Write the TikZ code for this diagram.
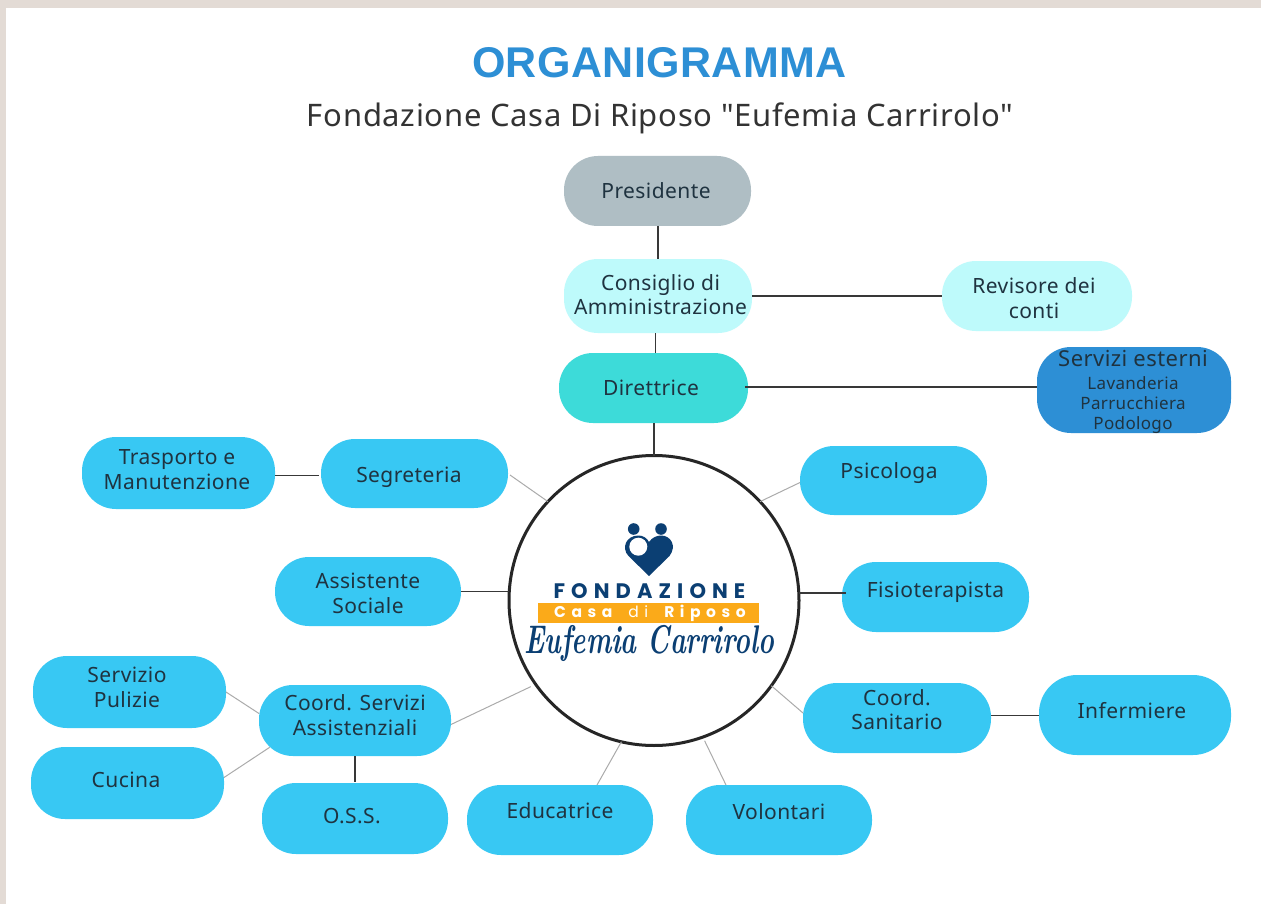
\documentclass[tikz,border=0pt]{standalone}
\usepackage{fontspec}
\newfontfamily\bodyfont[LetterSpace=2]{Noto Sans}
\newfontfamily\titlefont[LetterSpace=1]{Liberation Sans}
\newfontfamily\subfont[LetterSpace=2.2]{Noto Sans}
\newfontfamily\logofont[LetterSpace=29]{Poppins}
\newfontfamily\casafont[LetterSpace=36]{Poppins}
\definecolor{pagebg}{HTML}{E3DBD5}
\definecolor{sky}{HTML}{38C8F3}
\definecolor{greybox}{HTML}{AFBEC4}
\definecolor{pale}{HTML}{BEFAFB}
\definecolor{teal}{HTML}{3DDBD9}
\definecolor{deepblue}{HTML}{2D8FD5}
\definecolor{ink}{HTML}{1F3340}
\definecolor{navy}{HTML}{0B3F73}
\definecolor{amber}{HTML}{FBAA19}
\newcommand\pilltext[3]{\makebox[0pt]{\hspace{\dimexpr2\dimexpr#1\relax\relax}\raisebox{\dimexpr#2-.25em-3pt\relax}[0pt][0pt]{\begin{tabular}{@{}c@{}}#3\end{tabular}}}}
\tikzset{
  x=1pt,y=-1pt,
  pill/.style={rectangle,rounded corners=34pt,outer sep=0pt,inner sep=0pt,text=ink,
    font=\bodyfont\fontsize{21}{24.5}\selectfont},
  hardline/.style={draw=black!78,line width=1.3pt},
  softline/.style={draw=black!33,line width=1pt},
}
\begin{document}
\begin{tikzpicture}
\useasboundingbox (0,0) rectangle (1261,904);
\fill[pagebg] (0,0) rectangle (1261,904);
\fill[white] (6,8) rectangle (1261,904);

\node[text=deepblue,font=\titlefont\bfseries\fontsize{43}{46}\selectfont] (title) at (659.5,63) {ORGANIGRAMMA};
\node[text=black!80,font=\subfont\fontsize{31}{34}\selectfont] (subtitle) at (660,118) {Fondazione Casa Di Riposo "Eufemia Carrirolo"};

\node[pill,fill=greybox,minimum width=187pt,minimum height=70pt] (pres) at (657.5,191) {\pilltext{-1.5pt}{0pt}{Presidente}};
\node[pill,fill=pale,minimum width=188pt,minimum height=74pt] (cons) at (658,296) {\pilltext{2.5pt}{1.5pt}{Consiglio di\\Amministrazione}};
\node[pill,fill=teal,minimum width=189pt,minimum height=70pt] (dir) at (653.5,388) {\pilltext{-2.5pt}{0pt}{Direttrice}};
\node[pill,fill=pale,minimum width=190pt,minimum height=70pt] (rev) at (1037,296) {\pilltext{-3pt}{-2pt}{Revisore dei\\conti}};
\node[pill,fill=deepblue,minimum width=194pt,minimum height=86pt] (serv) at (1134,390) {\pilltext{-1pt}{0pt}{\fontsize{22}{23}\selectfont Servizi esterni\\[-2pt]\fontsize{17}{20.5}\selectfont Lavanderia\\[-4.5pt]\fontsize{17}{20.5}\selectfont Parrucchiera\\[-4.5pt]\fontsize{17}{20.5}\selectfont Podologo}};

\node[pill,fill=sky,minimum width=187pt,minimum height=69pt] (seg) at (414.5,473.5) {\pilltext{-5.5pt}{-1.5pt}{Segreteria}};
\node[pill,fill=sky,minimum width=193pt,minimum height=72pt] (trasp) at (178.5,473) {\pilltext{-1.5pt}{4pt}{Trasporto e\\Manutenzione}};
\node[pill,fill=sky,minimum width=186pt,minimum height=69pt] (assist) at (368,591.5) {\pilltext{0pt}{-1.5pt}{Assistente\\Sociale}};
\node[pill,fill=sky,minimum width=193pt,minimum height=72pt] (pulizie) at (129.5,692) {\pilltext{-2.5pt}{5pt}{Servizio\\Pulizie}};
\node[pill,fill=sky,minimum width=193pt,minimum height=72pt] (cucina) at (127.5,783) {\pilltext{-1.5pt}{3pt}{Cucina}};
\node[pill,fill=sky,minimum width=192pt,minimum height=71pt] (coordserv) at (355,720.5) {\pilltext{0pt}{5.5pt}{Coord. Servizi\\Assistenziali}};
\node[pill,fill=sky,minimum width=186pt,minimum height=71pt] (oss) at (355,818.5) {\pilltext{-3pt}{2.5pt}{O.S.S.}};
\node[pill,fill=sky,minimum width=186pt,minimum height=70pt] (educ) at (560,820) {\pilltext{0pt}{9pt}{Educatrice}};
\node[pill,fill=sky,minimum width=186pt,minimum height=70pt] (volont) at (779,820) {\pilltext{0pt}{8pt}{Volontari}};
\node[pill,fill=sky,minimum width=188pt,minimum height=70pt] (coordsan) at (897,718) {\pilltext{0pt}{8.5pt}{Coord.\\Sanitario}};
\node[pill,fill=sky,rounded corners=38pt,minimum width=192pt,minimum height=80pt] (inferm) at (1135,715) {\pilltext{-3pt}{4pt}{Infermiere}};
\node[pill,fill=sky,minimum width=187pt,minimum height=69pt] (psico) at (893.5,480.5) {\pilltext{-4.5pt}{9.5pt}{Psicologa}};
\node[pill,fill=sky,minimum width=187pt,minimum height=70pt] (fisio) at (935.5,597) {\pilltext{0pt}{7pt}{Fisioterapista}};

\node[circle,draw=black!85,line width=3pt,fill=white,minimum size=290pt,inner sep=0pt,outer sep=0pt] (logo) at (654,600.5) {};

% logo inside the circle
\fill[navy] (633.7,529) circle[radius=5.8];
\fill[navy] (661,529) circle[radius=5.8];
\fill[navy] (649,576) -- (628.5,556) .. controls (621,548) and (626,535.5) .. (638.5,535.5) .. controls (643,535.5) and (647,538) .. (649,542) .. controls (652,537.5) and (657,535.5) .. (661,535.5) .. controls (671,535.5) and (677,546) .. (669.5,556) -- cycle;
\fill[white] (638.3,546.7) circle[radius=9];
\fill[amber] (538.3,603.3) rectangle (759.3,622.7);
\node[text=navy,font=\logofont\bfseries\fontsize{21}{24}\selectfont] (fond) at (649.5,591) {FONDAZIONE};
\node[text=white,font=\casafont\bfseries\fontsize{15.5}{16}\selectfont] (casa) at (650,613) {Casa\hspace{16pt}{\mdseries di}\hspace{16pt}Riposo};
\node[text=navy,font=\rmfamily\itshape\bfseries\fontsize{40}{44}\selectfont] (eufemia) at (649,643) {\scalebox{.67}[1]{Eufemia Carrirolo}};

% connectors
\draw[hardline] ([xshift=.5pt]pres.south) -- ([yshift=0pt]cons.north);
\draw[hardline] ([xshift=-2.5pt]cons.south) -- ([xshift=2pt]dir.north);
\draw[hardline] ([xshift=.5pt]dir.south) -- (logo.north);
\draw[hardline] (cons.east) -- (rev.west);
\draw[hardline] ([xshift=-3pt,yshift=1pt]dir.east) -- ([yshift=3pt]serv.west);
\draw[hardline] ([yshift=-2.5pt]trasp.east) -- ([xshift=-2pt,yshift=-2pt]seg.west);
\draw[hardline] (assist.east) -- (logo.west |- assist.east);
\draw[hardline] (logo.east |- fisio.west) ++(0,-4) -- ([xshift=4pt,yshift=4pt]fisio.west);
\draw[hardline] ([yshift=2.7pt]coordsan.east) -- ([yshift=-.3pt]inferm.west);
\draw[hardline] (coordserv.south) -- ([yshift=1pt]oss.north);
\draw[softline] ([xshift=2pt,yshift=-1.5pt]seg.east) -- (logo.137.6);
\draw[softline] ([yshift=-2pt]psico.west) -- (logo.43.2);
\draw[softline] ([yshift=-4pt]coordserv.east) -- ([shift={(-4.5pt,-3pt)}]logo.215);
\draw[softline] ([yshift=5pt]coordsan.west) -- (logo.-36.7);
\draw[softline] ([xshift=37pt]educ.north) -- (logo.257.1);
\draw[softline] ([xshift=-53pt]volont.north) -- ([shift={(1pt,-4pt)}]logo.-70.4);
\draw[softline] (pulizie.east) -- ([yshift=7pt]coordserv.west);
\draw[softline] ([yshift=5.5pt]cucina.east) -- ([shift={(10.7pt,-26.8pt)}]coordserv.west);
\end{tikzpicture}
\end{document}
